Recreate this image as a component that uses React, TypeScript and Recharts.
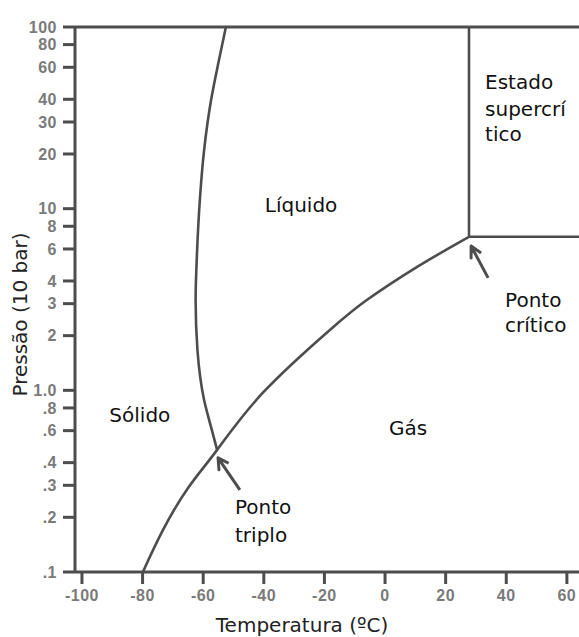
import React from 'react';
import { LineChart, Line, XAxis, YAxis, ReferenceLine, ReferenceDot, Label } from 'recharts';

// Axis ticks
const xTicks = [-100, -80, -60, -40, -20, 0, 20, 40, 60];
const yTicks = [0.1, 0.2, 0.3, 0.4, 0.6, 0.8, 1, 2, 3, 4, 6, 8, 10, 20, 30, 40, 60, 80, 100];
const yTickLabels = ['.1', '.2', '.3', '.4', '.6', '.8', '1.0', '2', '3', '4', '6', '8', '10', '20', '30', '40', '60', '80', '100'];

// Solid-liquid (melting) curve: temperature (°C), pressure (10 bar)
const meltT = [-52.5, -54.8, -57.4, -59.7, -61.1, -62.0, -62.5, -61.9, -59.7, -57.6, -55.4];
const meltP = [100, 65.8, 39.6, 21.0, 11.2, 5.92, 3.14, 1.67, 0.885, 0.645, 0.47];

// Sublimation + vaporization curve
const vapT = [-79.9, -73.3, -65.0, -55.4, -40.3, -18.2, -5.9, 10.6, 27.7];
const vapP = [0.1, 0.17, 0.29, 0.47, 0.97, 2.15, 3.15, 4.78, 7.0];

// Critical point and supercritical boundary
const criticalT = 27.7;
const criticalP = 7.0;
const xMax = 64;
const yMax = 100;

// Arrows (tail, tip, wing, tip, wing)
const critArrowT = [34.0, 28.4, 28.4, 28.4, 31.7];
const critArrowP = [4.16, 6.23, 5.35, 6.23, 5.70];
const tripleArrowT = [-47.9, -55.1, -54.8, -55.1, -51.6];
const tripleArrowP = [0.283, 0.425, 0.365, 0.425, 0.397];

// Region labels
const centerLabels = [
  { text: 'Sólido', t: -80.9, p: 0.732 },
  { text: 'Líquido', t: -27.7, p: 10.5 },
  { text: 'Gás', t: 7.6, p: 0.621 },
];
const leftLabels = [
  { text: 'Estado', t: 33.0, p: 49.8 },
  { text: 'supercrí', t: 33.0, p: 35.4 },
  { text: 'tico', t: 33.0, p: 25.8 },
  { text: 'Ponto', t: 39.6, p: 3.15 },
  { text: 'crítico', t: 39.6, p: 2.29 },
  { text: 'Ponto', t: -49.5, p: 0.228 },
  { text: 'triplo', t: -49.5, p: 0.16 },
];

const zip = (ts: number[], ps: number[]) => ts.map((t, i) => ({ t, p: ps[i] }));

const meltData = zip(meltT, meltP);
const vapData = zip(vapT, vapP);
const vertData = zip([criticalT, criticalT], [criticalP, yMax]);
const horizData = zip([criticalT, xMax], [criticalP, criticalP]);
const critArrow = zip(critArrowT, critArrowP);
const tripleArrow = zip(tripleArrowT, tripleArrowP);

const LINE = '#4d4d4d';
const TICK_FILL = '#7a7a7a';
const TEXT_FONT = '"DejaVu Sans", sans-serif';
const TICK_FONT = 'Arial, "Liberation Sans", sans-serif';

const yLabelFor = (v: number) => {
  const i = yTicks.findIndex((k) => Math.abs(k - v) < 1e-9);
  return i >= 0 ? yTickLabels[i] : String(v);
};

const tickTextStyle: React.CSSProperties = {
  fontSize: '16px',
  fontWeight: 'bold',
  fontFamily: TICK_FONT,
  letterSpacing: '0.5px',
  fill: TICK_FILL,
};

const XTick = (props: any) => {
  const { x, y, payload } = props;
  return (
    <g>
      <text x={x} y={y} dy="0.72em" textAnchor="middle" style={tickTextStyle}>
        {String(payload.value)}
      </text>
    </g>
  );
};

const YTick = (props: any) => {
  const { x, y, payload } = props;
  return (
    <g>
      <text x={x} y={y} dy="0.36em" textAnchor="end" style={tickTextStyle}>
        {yLabelFor(payload.value)}
      </text>
    </g>
  );
};

const YAxisTitle = (props: any) => {
  const vb = props.viewBox || { x: 0, y: 0, width: 0, height: 0 };
  const cx = vb.x + 20;
  const cy = vb.y + vb.height / 2 + 15;
  return (
    <text
      x={cx}
      y={cy}
      transform={`rotate(-90 ${cx} ${cy})`}
      textAnchor="middle"
      dominantBaseline="central"
      fill="#222"
      fontSize={20}
      fontFamily={TEXT_FONT}
    >
      Pressão (10 bar)
    </text>
  );
};

const XAxisTitle = (props: any) => {
  const vb = props.viewBox || { x: 0, y: 0, width: 0, height: 0 };
  const cx = vb.x + vb.width / 2 - 25;
  const cy = vb.y + 60;
  return (
    <text x={cx} y={cy} textAnchor="middle" fill="#222" fontSize={20} fontFamily={TEXT_FONT}>
      Temperatura (ºC)
    </text>
  );
};

export default function App() {
  return (
    <div style={{ position: 'absolute', left: 0, top: 0, background: '#fff' }}>
      <LineChart width={579} height={637} margin={{ top: 27, right: 0, bottom: 0, left: 0 }}>
        <XAxis
          dataKey="t"
          type="number"
          domain={[-102.3, xMax]}
          allowDataOverflow
          ticks={xTicks}
          interval={0}
          tickSize={12}
          tickMargin={5}
          height={65}
          axisLine={{ stroke: LINE, strokeWidth: 3 }}
          tickLine={{ stroke: LINE, strokeWidth: 3 }}
          tick={XTick}
        >
          <Label content={<XAxisTitle />} />
        </XAxis>
        <YAxis
          dataKey="p"
          type="number"
          scale="log"
          domain={[0.1, yMax]}
          allowDataOverflow
          ticks={yTicks}
          interval={0}
          width={75}
          tickSize={12}
          tickMargin={6}
          axisLine={{ stroke: LINE, strokeWidth: 3 }}
          tickLine={{ stroke: LINE, strokeWidth: 3 }}
          tick={YTick}
        >
          <Label content={<YAxisTitle />} />
        </YAxis>
        <ReferenceLine y={yMax} stroke={LINE} strokeWidth={3} ifOverflow="visible" />
        <Line data={meltData} dataKey="p" type="monotoneY" stroke={LINE} strokeWidth={2.6} dot={false} isAnimationActive={false} />
        <Line data={vapData} dataKey="p" type="natural" stroke={LINE} strokeWidth={2.6} dot={false} isAnimationActive={false} />
        <Line data={vertData} dataKey="p" type="linear" stroke={LINE} strokeWidth={2.6} dot={false} isAnimationActive={false} />
        <Line data={horizData} dataKey="p" type="linear" stroke={LINE} strokeWidth={2.6} dot={false} isAnimationActive={false} />
        <Line data={critArrow} dataKey="p" type="linear" stroke={LINE} strokeWidth={3} strokeLinejoin="round" dot={false} isAnimationActive={false} />
        <Line data={tripleArrow} dataKey="p" type="linear" stroke={LINE} strokeWidth={3} strokeLinejoin="round" dot={false} isAnimationActive={false} />
        {centerLabels.map((l, i) => (
          <ReferenceDot
            key={'c' + i}
            x={l.t}
            y={l.p}
            r={0}
            fill="none"
            stroke="none"
            ifOverflow="visible"
            label={{ value: l.text, position: 'center', fill: '#111', fontSize: 20, fontFamily: TEXT_FONT }}
          />
        ))}
        {leftLabels.map((l, i) => (
          <ReferenceDot
            key={'l' + i}
            x={l.t}
            y={l.p}
            r={0}
            fill="none"
            stroke="none"
            ifOverflow="visible"
            label={{ value: l.text, position: 'right', offset: 0, fill: '#111', fontSize: 20, fontFamily: TEXT_FONT }}
          />
        ))}
      </LineChart>
    </div>
  );
}
